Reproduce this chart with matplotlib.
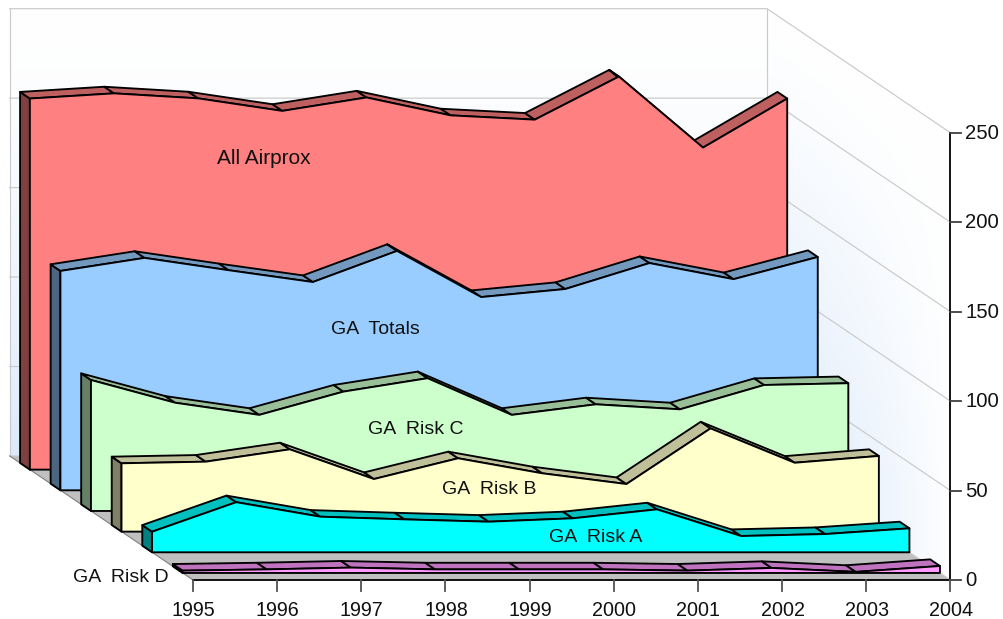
import numpy as np
import matplotlib
matplotlib.use("Agg")
import matplotlib.pyplot as plt
from matplotlib.patches import Polygon
from matplotlib.colors import to_rgb

plt.rcParams['font.family'] = ['Liberation Sans', 'DejaVu Sans']

years = [1995, 1996, 1997, 1998, 1999, 2000, 2001, 2002, 2003, 2004]
value_ticks = [0, 50, 100, 150, 200, 250]

all_airprox = [207.4, 210.3, 207.5, 200.5, 208.0, 198.0, 195.6, 219.7, 180.0, 207.4]
ga_totals = [122.6, 129.9, 123.0, 116.4, 133.8, 108.0, 112.5, 127.0, 118.0, 130.4]
ga_risk_c = [73.2, 60.5, 53.7, 66.7, 74.2, 53.7, 59.6, 56.8, 70.4, 71.4]
ga_risk_b = [38.2, 39.1, 46.0, 29.4, 41.0, 32.6, 26.6, 57.7, 38.5, 42.3]
ga_risk_a = [11.5, 28.0, 19.9, 18.4, 17.1, 19.0, 24.0, 9.1, 10.2, 13.4]
ga_risk_d = [1.3, 2.0, 3.0, 2.0, 2.0, 2.0, 1.3, 2.8, 0.6, 3.9]

series_names = ['All Airprox', 'GA  Totals', 'GA  Risk C', 'GA  Risk B', 'GA  Risk A', 'GA  Risk D']
series_values = [all_airprox, ga_totals, ga_risk_c, ga_risk_b, ga_risk_a, ga_risk_d]
front_colors = ['#FF8080', '#99CCFF', '#CCFFCC', '#FFFFCC', '#00FFFF', '#FF99FF']
label_pos = [(263.5, 158), (375, 330), (415.5, 429), (489, 489), (596, 537), (120.5, 578)]
label_size = [15, 14, 14, 14, 14, 14]

# Oblique projection of (category index, value, depth slot) to image pixels
X0, Y0 = 193.0, 580.0
DX = 84.15
KV = 447.3 / 250
DEPTH_X, DEPTH_Y = 30.55, 20.67
NSLOT = 6


def proj(i, v, z):
    return np.array([X0 + DX * i - DEPTH_X * z, Y0 - KV * v - DEPTH_Y * z])


fig = plt.figure(figsize=(10.04, 6.19), dpi=100)
ax = fig.add_axes([0, 0, 1, 1])
ax.set_xlim(0, 1004)
ax.set_ylim(619, 0)
ax.axis('off')

n = len(years)
last = n - 1
top = value_ticks[-1]

# walls
back_poly = [proj(0, 0, NSLOT), proj(last, 0, NSLOT), proj(last, top, NSLOT), proj(0, top, NSLOT)]
side_poly = [proj(last, 0, NSLOT), proj(last, 0, 0), proj(last, top, 0), proj(last, top, NSLOT)]
floor_poly = [proj(0, 0, 0), proj(last, 0, 0), proj(last, 0, NSLOT), proj(0, 0, NSLOT)]

yy, xx = np.mgrid[0:619, 0:1004]
blue = np.array(to_rgb('#DCEAFB'))
white = np.ones(3)

t_back = np.clip((yy - 10) / 446.0, 0, 1) ** 1.5
img_back = white + (blue - white) * t_back[..., None]
im = ax.imshow(img_back, extent=(0, 1004, 619, 0), aspect='auto', zorder=1, interpolation='bilinear')
im.set_clip_path(Polygon(back_poly, transform=ax.transData))

u = np.clip((xx - 768) / 183.0, 0, 1)
vv = np.clip((yy - (10 + u * 123)) / 447.0, 0, 1)
t_side = np.clip(vv * 1.15, 0, 1) ** 1.2 * (1 - u ** 1.8) * 0.85
img_side = white + (blue - white) * t_side[..., None]
im2 = ax.imshow(img_side, extent=(0, 1004, 619, 0), aspect='auto', zorder=1, interpolation='bilinear')
im2.set_clip_path(Polygon(side_poly, transform=ax.transData))
ax.set_xlim(0, 1004)
ax.set_ylim(619, 0)

ax.add_patch(Polygon(floor_poly, closed=True, fc='#C0C0C0', ec='none', zorder=2))

GRID = '#CACACA'
for v in value_ticks:
    a, b, c = proj(0, v, NSLOT), proj(last, v, NSLOT), proj(last, v, 0)
    ax.plot([a[0], b[0], c[0]], [a[1], b[1], c[1]], color=GRID, lw=0.85, zorder=2.5,
            solid_joinstyle='miter')
for p, q in [(proj(0, 0, NSLOT), proj(0, top, NSLOT)),
             (proj(last, 0, NSLOT), proj(last, top, NSLOT))]:
    ax.plot([p[0], q[0]], [p[1], q[1]], color=GRID, lw=0.85, zorder=2.5)
p, q = proj(0, 0, 0), proj(0, 0, NSLOT)
ax.plot([p[0], q[0]], [p[1], q[1]], color='#808080', lw=0.8, zorder=2.5)

# series, from the deepest slot to the front one
FRONT = 0.34
THICK = 0.32
z_order = 3.0
for s, (vals, col) in enumerate(zip(series_values, front_colors)):
    slot = NSLOT - 1 - s
    zf = slot + FRONT
    zb = zf + THICK
    rgb = np.array(to_rgb(col))
    top_col = rgb * 0.75
    side_col = rgb * 0.5
    kw = dict(closed=True, ec='black', lw=1.35, joinstyle='round')
    # side face
    ax.add_patch(Polygon([proj(0, 0, zf), proj(0, vals[0], zf), proj(0, vals[0], zb), proj(0, 0, zb)],
                         fc=side_col, zorder=z_order, **kw))
    # top strips
    for i in range(n - 1):
        ax.add_patch(Polygon([proj(i, vals[i], zf), proj(i + 1, vals[i + 1], zf),
                              proj(i + 1, vals[i + 1], zb), proj(i, vals[i], zb)],
                             fc=top_col, zorder=z_order + 0.1, **kw))
    # front face
    pts = [proj(0, 0, zf)] + [proj(i, vals[i], zf) for i in range(n)] + [proj(last, 0, zf)]
    ax.add_patch(Polygon(pts, fc=col, zorder=z_order + 0.2, **kw))
    z_order += 1

# axes
zt = 20
p0, p1 = proj(0, 0, 0), proj(last, 0, 0)
ax.plot([p0[0], p1[0]], [p0[1], p1[1]], color='black', lw=1.3, zorder=zt)
pt = proj(last, top, 0)
ax.plot([p1[0], pt[0]], [p1[1], pt[1]], color='black', lw=1.3, zorder=zt)
for v in value_ticks:
    p = proj(last, v, 0)
    ax.plot([p[0], p[0] + 11], [p[1], p[1]], color='#404040', lw=1.3, zorder=zt)
    ax.text(p[0] + 15, p[1] + 0.5, str(v), ha='left', va='center', fontsize=14.6, color='#111111', zorder=zt)
for i, y in enumerate(years):
    p = proj(i, 0, 0)
    ax.plot([p[0], p[0]], [p[1], p[1] + 10.5], color='#505050', lw=1.3, zorder=zt)
    ax.text(p[0] + 0.5, p[1] + 30.5, str(y), ha='center', va='center', fontsize=14.2, color='#111111', zorder=zt)

for name, (lx, ly), fs in zip(series_names, label_pos, label_size):
    ax.text(lx, ly, name, ha='center', va='center', fontsize=fs, color='#111111', zorder=zt)

fig.savefig('out.png', dpi=100)
